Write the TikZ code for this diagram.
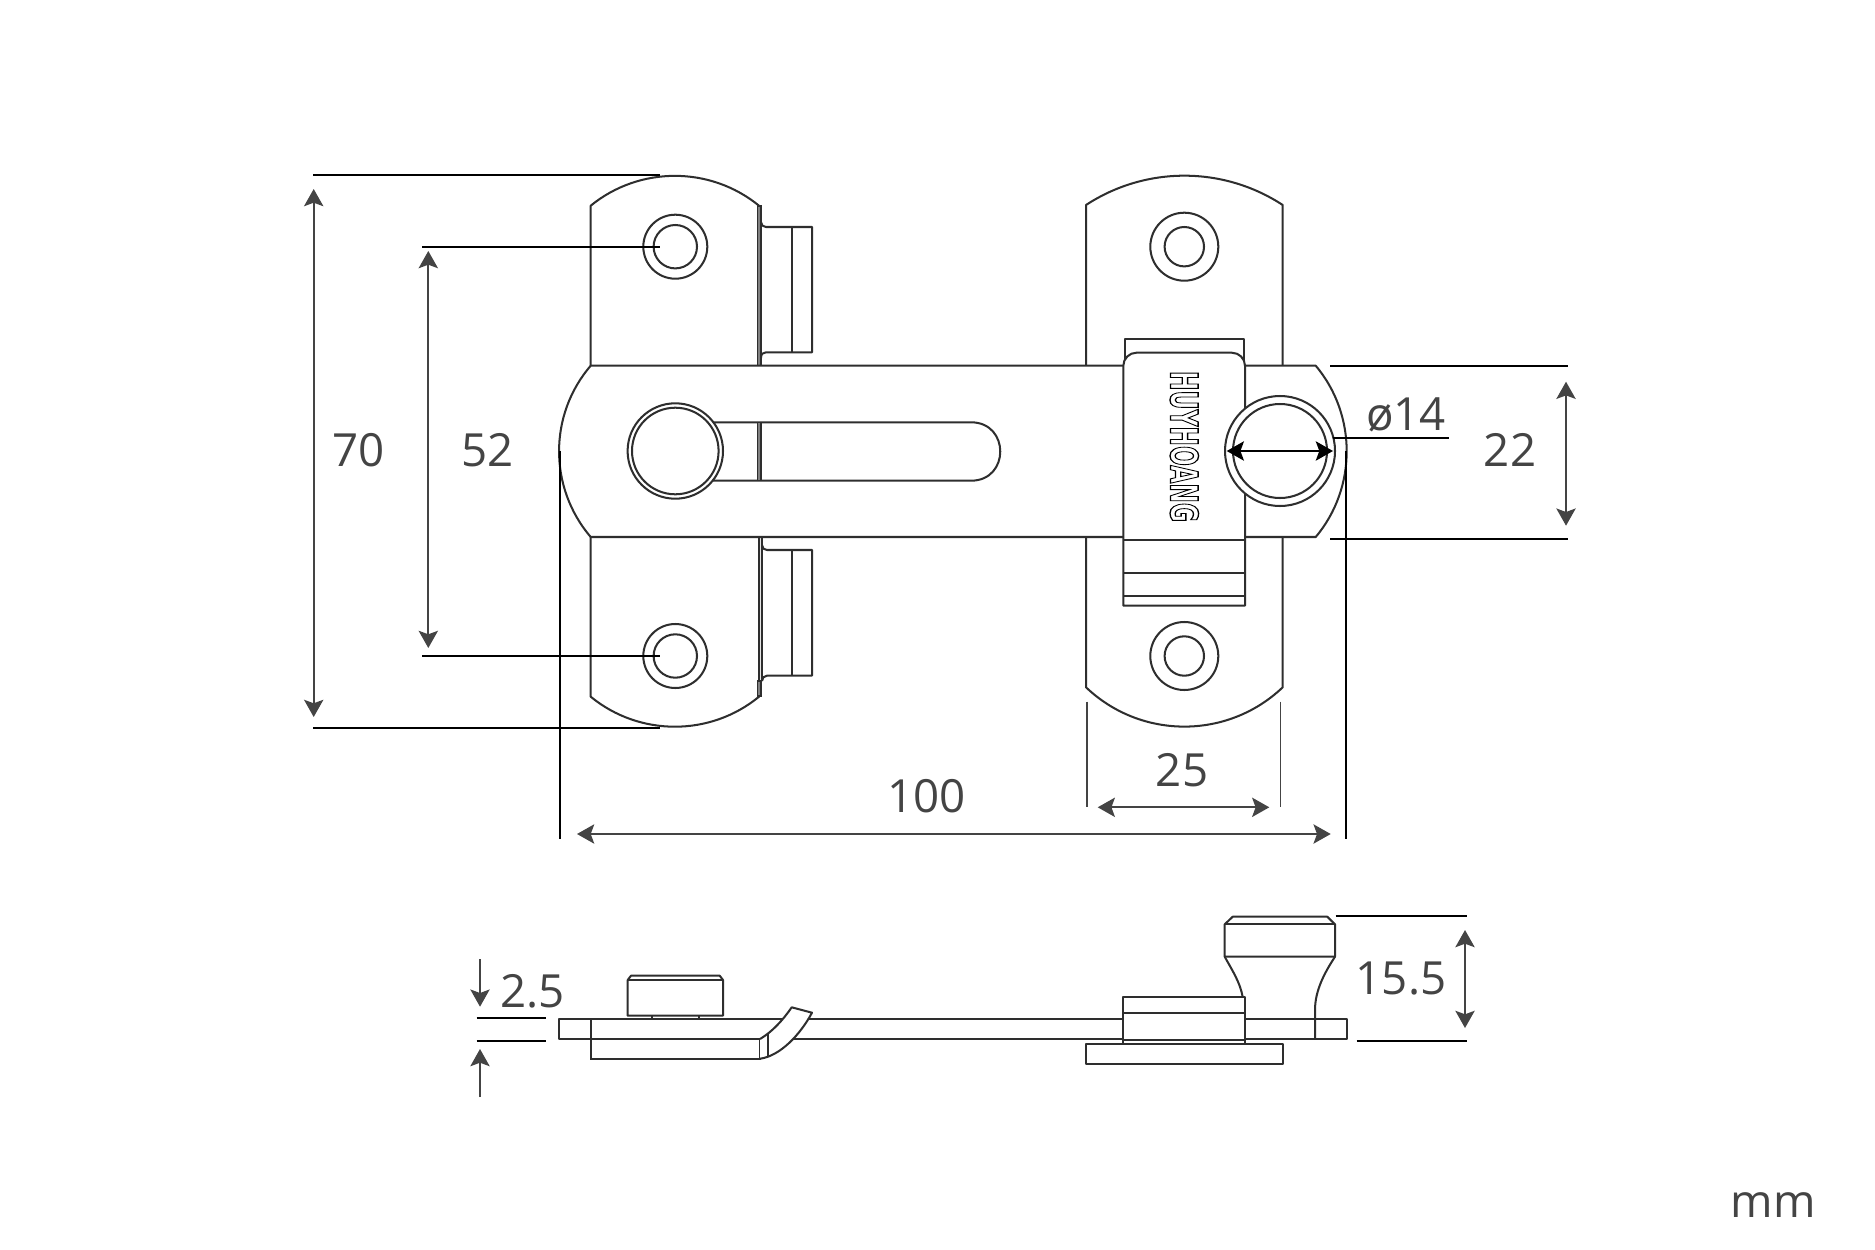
\documentclass[tikz,border=0pt]{standalone}
\usepackage{fontspec}
\setmainfont{Open Sans}
\newfontfamily\brandfont{DejaVu Sans}
\usetikzlibrary{arrows.meta}
\definecolor{inkline}{HTML}{2E2E2E}
\definecolor{dimgrey}{HTML}{444444}
\begin{document}
\begin{tikzpicture}[x=0.02cm,y=-0.02cm,
	part/.style={draw=inkline,line width=1.15pt,line join=round,fill=white},
	edge/.style={draw=inkline,line width=1.15pt},
	rim/.style={draw=inkline,fill=gray,line width=0.7pt},
	ext/.style={draw=black,line width=1.2pt},
	extgrey/.style={draw=dimgrey,line width=0.9pt},
	dim/.style={draw=dimgrey,line width=1pt,{Stealth[length=9.8pt,width=11pt,inset=2pt]}-{Stealth[length=9.8pt,width=11pt,inset=2pt]}},
	oneway/.style={draw=dimgrey,line width=1pt,-{Stealth[length=9.8pt,width=11pt,inset=2pt]}},
	label/.style={text=dimgrey,font=\fontsize{26}{26}\selectfont,inner sep=0pt}]
	\useasboundingbox (0,0) rectangle (1875,1250);
	% left plate and its tabs
	\draw[part] (590.7,205.7) .. controls (639.5,165.9) and (710.2,165.9) .. (759,205.7) -- (759,696.7)
		.. controls (710.2,736.7) and (639.5,736.7) .. (590.7,696.7) -- cycle;
	\draw[part] (761,222) .. controls (761,225) and (763,227) .. (766,227) -- (812,227) -- (812,352.3) -- (766,352.3)
		.. controls (763,352.3) and (761,354) .. (761,358);
	\draw[edge] (791.7,227) -- (791.7,352.3);
	\draw[part] (762,545) .. controls (762,548) and (764,550) .. (767,550) -- (812,550) -- (812,675.7) -- (767,675.7)
		.. controls (764,675.7) and (762,678) .. (762,681);
	\draw[edge] (791.7,550) -- (791.7,675.7);
	\draw[rim] (757.5,206) rectangle (761,366);
	\draw[rim] (757.5,681) rectangle (761,696);
	\draw[edge] (762,537) -- (762,681);
	% right plate
	\draw[part] (1086,205) .. controls (1145.7,165.9) and (1223,165.9) .. (1282.7,205) -- (1282.7,687.3)
		.. controls (1227.7,739.7) and (1141,739.7) .. (1086,687.3) -- cycle;
	% screw holes
	\foreach \holey in {246.7,656} {
		\draw[edge] (675.3,\holey) circle (32);
		\draw[edge] (675.3,\holey) circle (21.7);
		\draw[edge] (1184.3,\holey) circle (34);
		\draw[edge] (1184.3,\holey) circle (19.7);
	}
	% bar with slot and knob
	\draw[part] (590.7,365.7) -- (1315.7,365.7) .. controls (1357,414.8) and (1357,487.9) .. (1315.7,537)
		-- (590.7,537) .. controls (548.5,487.6) and (548.5,414.8) .. cycle;
	\draw[edge] (700,422.3) -- (971,422.3) .. controls (1010,422.3) and (1010,480.7) .. (971,480.7) -- (700,480.7);
	\draw[rim] (757.5,422.3) rectangle (761,480.7);
	\draw[part] (675.3,451) circle (47.7);
	\draw[edge] (675.3,451) circle (43.3);
	% clip
	\draw[part] (1125,365) -- (1125,339) -- (1243.7,339) -- (1243.7,365);
	\draw[part] (1123.3,605.7) [rounded corners=7.5pt] -- (1123.3,352.7) -- (1245,352.7) [sharp corners] -- (1245,605.7) -- cycle;
	\draw[edge] (1123.3,540) -- (1245,540) (1123.3,573.3) -- (1245,573.3) (1123.3,596) -- (1245,596);
	\node[inner sep=0pt,rotate=-90] (brand) at (1184.3,446.5) {\resizebox{86pt}{16pt}{\brandfont\bfseries\special{pdf:code 1 Tr 0.35 w}HUYHOANG\special{pdf:code 0 Tr}}};
	% stud
	\draw[part] (1280,451) circle (55);
	\draw[edge] (1280,451) circle (47);
	\draw[{Stealth[length=9.8pt,width=11pt,inset=2pt]}-{Stealth[length=9.8pt,width=11pt,inset=2pt]},draw=black,line width=1.1pt] (1226.7,451) -- (1333,451);
	% dimensions of the front view
	\draw[ext] (313.3,175) -- (660,175);
	\draw[ext] (313.3,727.7) -- (660,727.7);
	\draw[dim] (313.7,189) -- (313.7,717);
	\node[label] (dimseventy) at (358.3,450.3) {70};
	\draw[ext] (422.3,246.7) -- (660,246.7);
	\draw[ext] (422.3,656) -- (660,656);
	\draw[dim] (428.3,251) -- (428.3,648);
	\node[label] (dimfiftytwo) at (487.3,450.3) {52};
	\draw[ext] (560,451) -- (560,839);
	\draw[ext] (1346,451) -- (1346,839);
	\draw[dim] (577,834) -- (1330.7,834);
	\node[label] (dimhundred) at (926.5,796) {100};
	\draw[extgrey] (1086.7,701.7) -- (1086.7,806.7);
	\draw[extgrey] (1280.3,701.7) -- (1280.3,806.7);
	\draw[dim] (1097.7,807.3) -- (1269.3,807.3);
	\node[label] (dimplate) at (1182,770.4) {25};
	\draw[ext] (1333,437.7) -- (1449,437.7);
	\node[label] (dimstud) at (1406,415) {ø14};
	\draw[ext] (1330,366) -- (1567.7,366);
	\draw[ext] (1330,539) -- (1567.7,539);
	\draw[dim] (1566,381.7) -- (1566,525.7);
	\node[label] (dimbar) at (1510,450.3) {22};
	% side view
	\draw[part] (1086,1044.3) rectangle (1282.7,1064);
	\draw[part] (559,1019) rectangle (1346.7,1039);
	\draw[edge] (590.7,1019) -- (590.7,1058.7) -- (760,1058.7) -- (760,1039);
	\draw[part] (760,1039) .. controls (772,1032) and (783,1020) .. (791.7,1007.3) -- (812,1012.7)
		.. controls (800,1035) and (780,1056) .. (760,1058.7);
	\draw[edge] (768,1033) -- (768,1056);
	\draw[edge] (652.3,1015.7) -- (652.3,1019) (699,1015.7) -- (699,1019);
	\draw[part] (627.7,1015.7) -- (627.7,980) -- (631,975.7) -- (719.7,975.7) -- (723,980) -- (723,1015.7) -- cycle;
	\draw[edge] (627.7,980) -- (723,980);
	\draw[edge] (1224.7,956.7) .. controls (1232,970) and (1240,982) .. (1242.7,997);
	\draw[edge] (1335,956.7) .. controls (1325,972) and (1315,990) .. (1315,1010) -- (1315,1039);
	\draw[part] (1224.7,956.7) -- (1224.7,924.3) -- (1232.7,916.7) -- (1327.3,916.7) -- (1335,924.3) -- (1335,956.7) -- cycle;
	\draw[edge] (1224.7,924.3) -- (1335,924.3);
	\draw[part] (1123.3,997) rectangle (1245.3,1044);
	\draw[edge] (1123.3,1012.7) -- (1245.3,1012.7) (1123.3,1040) -- (1245.3,1040);
	% dimensions of the side view
	\draw[ext] (476.7,1018.3) -- (546,1018.3);
	\draw[ext] (476.7,1040.7) -- (546,1040.7);
	\draw[oneway] (480,959) -- (480,1006.7);
	\draw[oneway] (480,1097) -- (480,1049);
	\node[label] (dimthick) at (532.7,991) {2.5};
	\draw[ext] (1335.7,915.7) -- (1467,915.7);
	\draw[ext] (1356.7,1041) -- (1467,1041);
	\draw[dim] (1465,930) -- (1465,1028);
	\node[label] (dimheight) at (1401,978.5) {15.5};
	\node[label] (unit) at (1773,1205) {mm};
\end{tikzpicture}
\end{document}
